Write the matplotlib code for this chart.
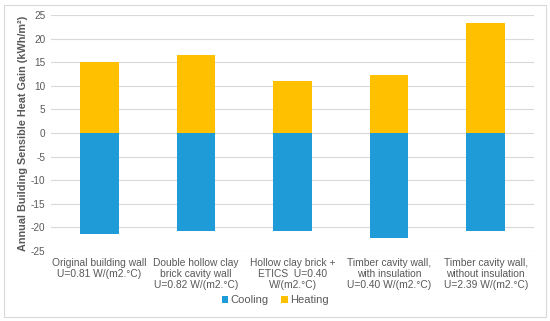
import matplotlib.pyplot as plt
from matplotlib.patches import Rectangle

categories = [
    "Original building wall\nU=0.81 W/(m2.\u00b0C)",
    "Double hollow clay\nbrick cavity wall\nU=0.82 W/(m2.\u00b0C)",
    "Hollow clay brick +\nETICS  U=0.40\nW/(m2.\u00b0C)",
    "Timber cavity wall,\nwith insulation\nU=0.40 W/(m2.\u00b0C)",
    "Timber cavity wall,\nwithout insulation\nU=2.39 W/(m2.\u00b0C)",
]
cooling = [-21.3, -20.8, -20.8, -22.2, -20.8]
heating = [15.1, 16.5, 11.1, 12.2, 23.4]
yticks = [25, 20, 15, 10, 5, 0, -5, -10, -15, -20, -25]

COOL_C = "#1F9BD7"
HEAT_C = "#FFC000"
TXT_C = "#595959"

plt.rcParams["font.family"] = ["Liberation Sans", "DejaVu Sans"]

fig = plt.figure(figsize=(5.5, 3.21), dpi=100)
ax = fig.add_axes([0.093, 0.218, 0.878, 0.735])

x = range(len(categories))
ax.bar(x, cooling, 0.4, color=COOL_C, label="Cooling", zorder=3)
ax.bar(x, heating, 0.4, color=HEAT_C, label="Heating", zorder=3)

ax.set_ylim(-25, 25)
ax.set_xlim(-0.5, len(categories) - 0.5)
ax.set_yticks(yticks)
ax.set_yticklabels([str(t) for t in yticks], fontsize=7.2, color=TXT_C)
ax.set_xticks(list(x))
ax.set_xticklabels(categories, fontsize=7.4, color=TXT_C, linespacing=1.15)
ax.tick_params(axis="x", length=0, pad=5)
ax.tick_params(axis="y", length=0, pad=4)
ax.grid(axis="y", color="#D9D9D9", lw=0.8, zorder=0)
for s in ax.spines.values():
    s.set_visible(False)

ax.set_ylabel("Annual Building Sensible Heat Gain (kWh/m\u00b2)", fontsize=7.8,
              fontweight="bold", color=TXT_C, labelpad=2)

fig.legend(loc="center", bbox_to_anchor=(0.5, 0.065), ncol=2, frameon=False,
           fontsize=8, handlelength=0.55, handleheight=0.55, handletextpad=0.2,
           columnspacing=1.2, labelcolor=TXT_C)

# light frame around the chart
fig.patches.append(Rectangle((4 / 550, 4 / 321), 542 / 550, 312 / 321,
                             transform=fig.transFigure, fill=False,
                             edgecolor="#D9D9D9", lw=0.8))

plt.savefig("out.png", dpi=100)
